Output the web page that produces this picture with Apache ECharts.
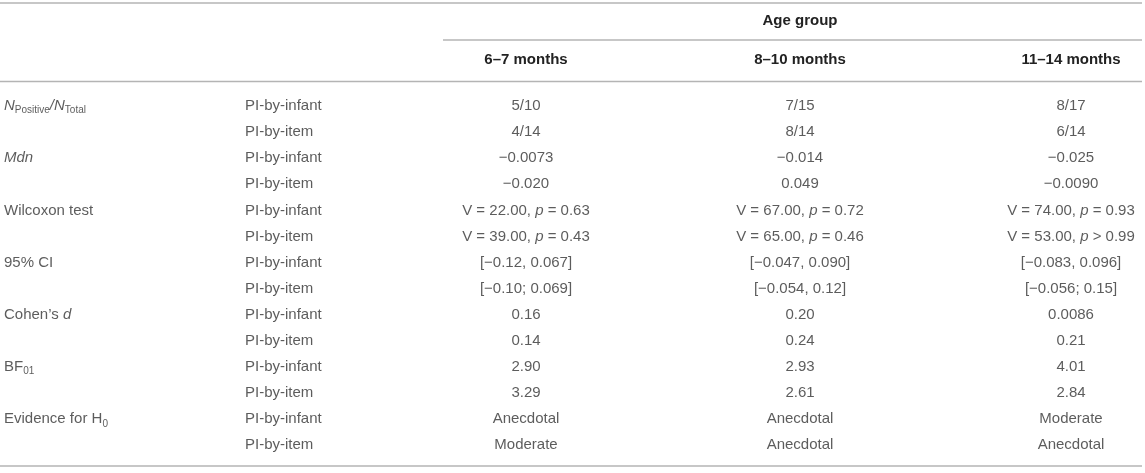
<!DOCTYPE html>
<html>
<head>
<meta charset="utf-8">
<script src="https://cdn.jsdelivr.net/npm/echarts@6/dist/echarts.min.js"></script>
<style>
  html, body { margin: 0; padding: 0; background: #fff; }
  #main { width: 1145px; height: 473px; }
</style>
</head>
<body>
<div id="main"></div>
<script>
// table content
var measures = ['{i|N}{s|Positive}{i|/N}{s|Total}', '{i|Mdn}', 'Wilcoxon test', '95% CI',
  'Cohen\u2019s {i|d}', 'BF{s|01}', 'Evidence for H{s|0}'];
var methods = ['PI-by-infant', 'PI-by-item'];
var ageGroups = ['6\u20137 months', '8\u201310 months', '11\u201314 months'];

var months6to7 = ['5/10', '4/14', '\u22120.0073', '\u22120.020',
  'V = 22.00, p = 0.63', 'V = 39.00, p = 0.43',
  '[\u22120.12, 0.067]', '[\u22120.10; 0.069]',
  '0.16', '0.14', '2.90', '3.29', 'Anecdotal', 'Moderate'];
var months8to10 = ['7/15', '8/14', '\u22120.014', '0.049',
  'V = 67.00, p = 0.72', 'V = 65.00, p = 0.46',
  '[\u22120.047, 0.090]', '[\u22120.054, 0.12]',
  '0.20', '0.24', '2.93', '2.61', 'Anecdotal', 'Anecdotal'];
var months11to14 = ['8/17', '6/14', '\u22120.025', '\u22120.0090',
  'V = 74.00, p = 0.93', 'V = 53.00, p > 0.99',
  '[\u22120.083, 0.096]', '[\u22120.056; 0.15]',
  '0.0086', '0.21', '4.01', '2.84', 'Moderate', 'Anecdotal'];

// layout
var colX = [4, 245, 526, 800, 1071];
var font = 'Helvetica, Arial, "Liberation Sans", sans-serif';
var textColor = '#333';
var ruleColor = '#b4b4b4';
var fontSize = 15;

var nRows = measures.length * methods.length;
var rowNames = [];
for (var r = 0; r < nRows; r++) rowNames.push('r' + r);

var rich = {
  i: { fontStyle: 'italic', fontSize: fontSize, fontFamily: font, color: textColor, lineHeight: 18 },
  s: { fontSize: 10, fontFamily: font, color: textColor, lineHeight: 12, padding: [9, 0, 0, 0] },
  n: { fontSize: fontSize, fontFamily: font, color: textColor, lineHeight: 18 }
};

function fmtValue(t) {
  // italic p in test results
  return t.replace(/p ([=>])/, '{i|p} $1');
}

function cellSeries(x, rows, align) {
  return {
    type: 'scatter',
    symbolSize: 0,
    silent: true,
    data: rows.map(function (t, k) { return { value: [x, k], text: t }; }),
    label: {
      show: true,
      position: 'inside',
      align: align,
      verticalAlign: 'middle',
      fontSize: fontSize,
      fontFamily: font,
      color: textColor,
      lineHeight: 18,
      rich: rich,
      formatter: function (p) { return p.data.text; }
    }
  };
}

var col0 = [], col1 = [];
measures.forEach(function (m) {
  methods.forEach(function (me, j) {
    col0.push(j === 0 ? m : '');
    col1.push(me);
  });
});

var chart = echarts.init(document.getElementById('main'));

function hline(x1, x2, y) {
  return { type: 'line', silent: true, shape: { x1: x1, y1: y, x2: x2, y2: y },
    style: { stroke: ruleColor, lineWidth: 1.5 } };
}
function headText(t, x, y) {
  return { type: 'text', silent: true, x: x, y: y,
    style: { text: t, font: 'bold ' + fontSize + 'px ' + font, fill: '#222',
      align: 'center', verticalAlign: 'middle' } };
}

var graphics = [
  hline(0, 1142, 3),
  hline(443, 1142, 40),
  hline(0, 1142, 81.5),
  hline(0, 1142, 466)
];
graphics.push(headText('Age group', colX[3], 21));
ageGroups.forEach(function (g, k) { graphics.push(headText(g, colX[k + 2], 60)); });

chart.setOption({
  animation: false,
  backgroundColor: '#fff',
  grid: { left: 0, right: 0, top: 93, bottom: 14.6 },
  xAxis: { type: 'value', min: 0, max: 1145, show: false },
  yAxis: { type: 'category', data: rowNames, inverse: true, show: false },
  graphic: graphics,
  series: [
    cellSeries(colX[0], col0, 'left'),
    cellSeries(colX[1], col1, 'left'),
    cellSeries(colX[2], months6to7.map(fmtValue), 'center'),
    cellSeries(colX[3], months8to10.map(fmtValue), 'center'),
    cellSeries(colX[4], months11to14.map(fmtValue), 'center')
  ]
});
</script>
</body>
</html>
